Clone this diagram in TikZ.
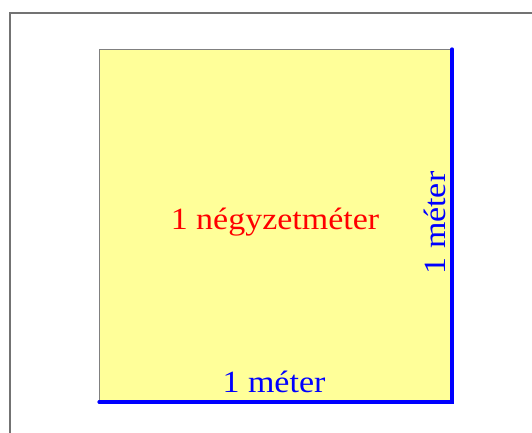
\documentclass[tikz,border=0pt]{standalone}
\usepackage{fontspec}
\setmainfont{Liberation Serif}[FakeStretch=1.1]
\begin{document}
\begin{tikzpicture}[x=1bp,y=-1bp,
  lbl/.style={font=\fontsize{31}{31}\selectfont, inner sep=0pt},
  edge/.style={draw=blue, line width=3.2bp, line cap=round}]
\useasboundingbox (0,0) rectangle (532,433);
\clip (0,0) rectangle (532,433);
\draw[gray!90!black, line width=2bp] (10,13) rectangle (560,460);
\coordinate (tl) at (99,49);
\coordinate (tr) at (452,49);
\coordinate (bl) at (99,402);
\coordinate (br) at (452,402);
\fill[fill={rgb,255:red,255;green,255;blue,153}, draw=gray, line width=0.8bp] (tl) rectangle (br);
\draw[edge] (bl) -- (br) -- (tr);
\node[lbl, text=red] (area) at (275,222) {1 négyzetméter};
\node[lbl, text=blue, anchor=base] (bottom) at (274,392) {1 méter};
\node[lbl, text=blue, anchor=base, rotate=90] (side) at (445,223) {1 méter};
\end{tikzpicture}
\end{document}
